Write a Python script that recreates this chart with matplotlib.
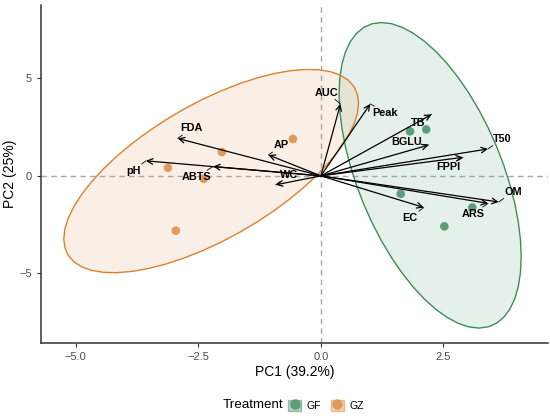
import numpy as np
import matplotlib
matplotlib.use('Agg')
import matplotlib.pyplot as plt
from matplotlib.patches import Polygon, Patch
from matplotlib.lines import Line2D
from matplotlib.legend_handler import HandlerTuple

plt.rcParams['font.family'] = ['Liberation Sans', 'DejaVu Sans']

# sample scores (PC1, PC2)
gf_x = [1.82, 2.15, 1.63, 3.09, 2.52]
gf_y = [2.28, 2.38, -0.92, -1.62, -2.59]
gz_x = [-0.57, -2.02, -3.12, -2.39, -2.96]
gz_y = [1.89, 1.22, 0.41, -0.15, -2.81]

# variable loadings (arrow tips) and repelled label spots
var_names = ['FDA', 'pH', 'ABTS', 'AP', 'WC', 'AUC', 'Peak', 'TB', 'BGLU',
             'T50', 'FPPI', 'OM', 'ARS', 'EC']
var_x = [-2.92, -3.57, -2.20, -1.07, -0.92, 0.40, 1.01, 2.26, 2.20,
         3.41, 2.90, 3.63, 3.41, 2.10]
var_y = [1.92, 0.77, 0.48, 1.07, -0.46, 3.69, 3.69, 3.15, 1.58,
         1.38, 0.95, -1.34, -1.41, -1.62]
lab_x = [-2.64, -3.83, -2.54, -0.80, -0.65, 0.12, 1.31, 1.99, 1.76,
         3.70, 2.60, 3.92, 3.11, 1.82]
lab_y = [2.43, 0.26, -0.05, 1.56, 0.04, 4.26, 3.23, 2.72, 1.75,
         1.89, 0.46, -0.82, -1.94, -2.15]

groups = ['GF', 'GZ']
pt_cols = {'GF': '#5c9e77', 'GZ': '#e09a5c'}
edge_cols = {'GF': '#3d8c5c', 'GZ': '#e07f2c'}


def cov_trob(x, nu=5, maxit=25, tol=1e-4):
    # same as MASS::cov.trob, used by stat_ellipse(type = "t")
    n, p = x.shape
    wt = np.ones(n)
    loc = x.mean(axis=0)
    w = np.sqrt(wt)
    for it in range(maxit):
        w0 = w
        X = x - loc
        u, d, vt = np.linalg.svd(np.sqrt(w / w.sum())[:, None] * X, full_matrices=False)
        wX = X @ vt.T @ np.diag(1.0 / d)
        Q = (wX ** 2).sum(axis=1)
        w = wt * (nu + p) / (nu + Q)
        loc = (w[:, None] * x).sum(axis=0) / w.sum()
        if np.all(np.abs(w - w0) < tol):
            break
    sX = np.sqrt(w)[:, None] * X
    return loc, sX.T @ sX / wt.sum()


def t_ellipse(xs, ys):
    pts = np.column_stack([xs, ys])
    center, shape = cov_trob(pts)
    # qf(0.95, 2, n - 1) with n = 5
    radius = np.sqrt(2 * 6.944272)
    th = np.linspace(0, 2 * np.pi, 51)
    circ = np.column_stack([np.cos(th), np.sin(th)])
    L = np.linalg.cholesky(shape)
    return center + radius * circ @ L.T


fig = plt.figure(figsize=(5.5, 4.16), dpi=100)
ax = fig.add_axes([0.0745, 0.1755, 0.9215, 0.812])

ax.axhline(0, color='#a8a8a8', ls=(0, (4, 3)), lw=1.0, zorder=0)
ax.axvline(0, color='#a8a8a8', ls=(0, (4, 3)), lw=1.0, zorder=0)

data = {'GF': (gf_x, gf_y), 'GZ': (gz_x, gz_y)}
for g in groups:
    ell = t_ellipse(*data[g])
    ax.add_patch(Polygon(ell, closed=True, facecolor=pt_cols[g], alpha=0.15,
                         edgecolor='none', zorder=1))
    ax.add_patch(Polygon(ell, closed=True, facecolor='none',
                         edgecolor=edge_cols[g], lw=1.0, zorder=2))
for g in groups:
    ax.scatter(data[g][0], data[g][1], s=38, color=pt_cols[g], edgecolor='none', zorder=3)

for i in range(len(var_names)):
    ax.annotate('', xy=(var_x[i], var_y[i]), xytext=(0, 0),
                arrowprops=dict(arrowstyle='->', lw=0.9, color='black',
                                shrinkA=0, shrinkB=0, mutation_scale=10), zorder=4)
    # label with a short leader line like ggrepel
    ax.annotate(var_names[i], xy=(var_x[i], var_y[i]), xytext=(lab_x[i], lab_y[i]),
                ha='center', va='center', fontsize=7.8, fontweight='bold',
                bbox=dict(boxstyle='square,pad=0.15', fc='none', ec='none'),
                arrowprops=dict(arrowstyle='-', lw=0.6, color='black',
                                shrinkA=0, shrinkB=0), zorder=5)

ax.set_xlim(-5.71, 4.63)
ax.set_ylim(-8.57, 8.75)
ax.set_xticks([-5, -2.5, 0, 2.5])
ax.set_xticklabels(['\u22125.0', '\u22122.5', '0.0', '2.5'])
ax.set_yticks([-5, 0, 5])
ax.set_yticklabels(['\u22125', '0', '5'])
ax.tick_params(labelsize=8, colors='#333333', length=3, width=0.8, labelcolor='#4d4d4d')
for s in ['top', 'right']:
    ax.spines[s].set_visible(False)
for s in ['left', 'bottom']:
    ax.spines[s].set_linewidth(1.1)
    ax.spines[s].set_color('#333333')
ax.set_xlabel('PC1 (39.2%)', fontsize=10, labelpad=2)
ax.set_ylabel('PC2 (25%)', fontsize=10, labelpad=2)

handles = []
for g in groups:
    handles.append((Patch(facecolor=pt_cols[g], alpha=0.45, edgecolor=edge_cols[g], lw=1.0),
                    Line2D([], [], marker='o', ls='', color=pt_cols[g], markersize=6.5)))
fig.text(0.404, 0.026, 'Treatment', fontsize=9.6, ha='left', va='center')
fig.legend(handles, groups, handler_map={tuple: HandlerTuple(ndivide=1, pad=0)},
           loc='center left', bbox_to_anchor=(0.524, 0.026), ncol=2, frameon=False,
           fontsize=7.6, handlelength=1.25, handleheight=1.25, handletextpad=0.5,
           columnspacing=0.9, borderaxespad=0, borderpad=0)

fig.savefig('out.png', dpi=100)
